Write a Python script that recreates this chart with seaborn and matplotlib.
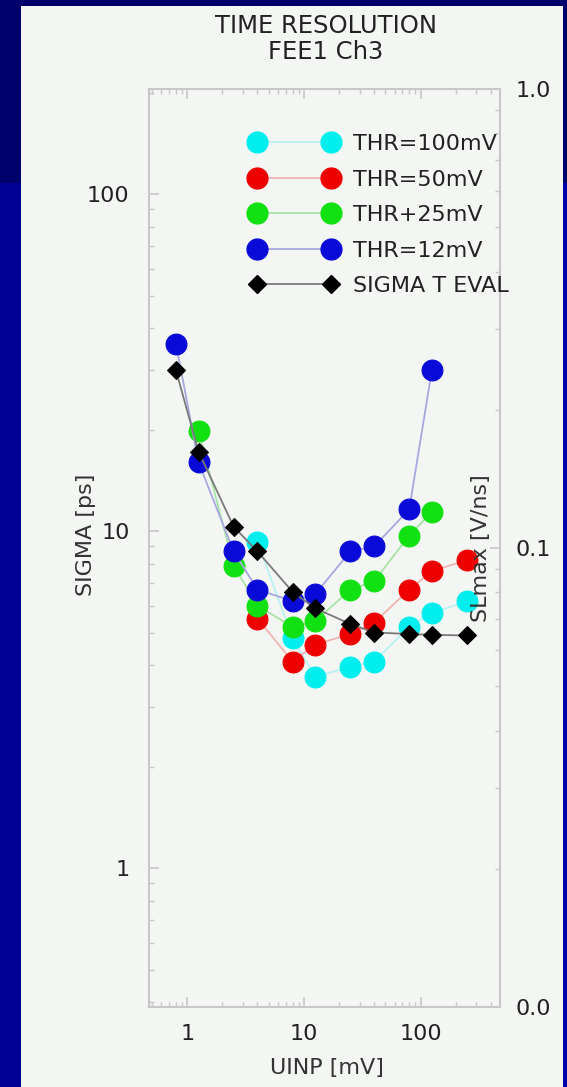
import numpy as np
import pandas as pd
import matplotlib
matplotlib.use("Agg")
import matplotlib.pyplot as plt
from matplotlib.patches import Rectangle
from matplotlib.lines import Line2D
from matplotlib.ticker import LogLocator, FixedLocator, FixedFormatter, NullFormatter
import seaborn as sns

# ---------------- data ----------------
x_cyan = [4, 8, 12.5, 25, 40, 80, 125, 250]
y_cyan = [9.3, 4.8, 3.7, 3.95, 4.1, 5.2, 5.7, 6.2]

x_red = [4, 8, 12.5, 25, 40, 80, 125, 250]
y_red = [5.5, 4.1, 4.6, 4.95, 5.35, 6.7, 7.6, 8.2]

x_green = [1.25, 2.5, 4, 8, 12.5, 25, 40, 80, 125]
y_green = [19.8, 7.9, 6.0, 5.2, 5.4, 6.7, 7.1, 9.7, 11.4]

x_blue = [0.8, 1.25, 2.5, 4, 8, 12.5, 25, 40, 80, 125]
y_blue = [36.0, 16.0, 8.7, 6.7, 6.2, 6.5, 8.7, 9.0, 11.6, 30.0]

x_black = [0.8, 1.25, 2.5, 4, 8, 12.5, 25, 40, 80, 125, 250]
y_black = [30.0, 17.2, 10.3, 8.7, 6.6, 5.9, 5.3, 5.0, 4.95, 4.92, 4.9]

labels = ["THR=100mV", "THR=50mV", "THR+25mV", "THR=12mV", "SIGMA T EVAL"]
x_ticks = [1, 10, 100]
x_ticklabels = ["1", "10", "100"]
y_ticks = [1, 10, 100]
y_ticklabels = ["1", "10", "100"]
y2_ticks = [0.01, 0.1, 1.0]
y2_ticklabels = ["0.0", "0.1", "1.0"]

# ---------------- style ----------------
sns.set_theme(style="white")
plt.rcParams["font.family"] = ["DejaVu Sans"]

W, H = 567, 1087
fig = plt.figure(figsize=(W / 100, H / 100), dpi=100, facecolor="#000094")

panel = "#f4f6f3"
fig.patches.append(Rectangle((0, 1 - 183 / H), 1, 183 / H, transform=fig.transFigure,
                             facecolor="#00006c", edgecolor="none", zorder=-3))
fig.patches.append(Rectangle((563 / W, 0), 4 / W, 1 - 183 / H, transform=fig.transFigure,
                             facecolor="#0000a8", edgecolor="none", zorder=-3))
fig.patches.append(Rectangle((21 / W, 0), (563 - 21) / W, 1 - 6 / H, transform=fig.transFigure,
                             facecolor=panel, edgecolor="none", zorder=-2))

left, right, top, bottom = 149, 500, 89, 1007
ax = fig.add_axes([left / W, (H - bottom) / H, (right - left) / W, (bottom - top) / H])
ax.set_facecolor(panel)

series = [
    (x_cyan, y_cyan, "#00eeee", "#b8f2f2"),
    (x_red, y_red, "#ee0000", "#f0b4b4"),
    (x_green, y_green, "#11e011", "#a8e4a8"),
    (x_blue, y_blue, "#0a0ad8", "#a8a8e0"),
]
for xs, ys, c, lc in series:
    df = pd.DataFrame({"x": xs, "y": ys})
    sns.lineplot(data=df, x="x", y="y", ax=ax, color=lc, lw=1.3, marker="o",
                 markersize=15, markerfacecolor=c, markeredgecolor=c, markeredgewidth=0.8,
                 legend=False, estimator=None, sort=False)

df_k = pd.DataFrame({"x": x_black, "y": y_black})
sns.lineplot(data=df_k, x="x", y="y", ax=ax, color="#7a7a7a", lw=1.3, marker="D",
             markersize=9, markerfacecolor="black", markeredgecolor="black",
             legend=False, estimator=None, sort=False)

ax.set_xscale("log")
ax.set_yscale("log")
ax.set_xlim(0.47, 480)
ax.set_ylim(0.387, 205)

grey = "#c8c8c8"
for s in ax.spines.values():
    s.set_color(grey)
    s.set_linewidth(1.5)

ax.xaxis.set_major_locator(FixedLocator(x_ticks))
ax.xaxis.set_major_formatter(FixedFormatter(x_ticklabels))
ax.xaxis.set_minor_locator(LogLocator(base=10, subs=np.arange(2, 10) * 1.0, numticks=20))
ax.xaxis.set_minor_formatter(NullFormatter())
ax.yaxis.set_major_locator(FixedLocator(y_ticks))
ax.yaxis.set_major_formatter(FixedFormatter(y_ticklabels))
ax.yaxis.set_minor_locator(LogLocator(base=10, subs=np.arange(2, 10) * 1.0, numticks=20))
ax.yaxis.set_minor_formatter(NullFormatter())

ax.tick_params(axis="x", which="both", direction="in", top=True, bottom=True, color=grey,
               labelsize=16, labelcolor="#222222", pad=12)
ax.tick_params(axis="y", which="both", direction="in", left=True, right=False, color=grey,
               labelsize=16, labelcolor="#222222", pad=14)
ax.tick_params(which="major", length=7, width=1.2)
ax.tick_params(which="minor", length=3.5, width=1.0)

ax.set_xlabel("UINP [mV]", fontsize=16, color="#333333")
ax.xaxis.set_label_coords((327 - left) / (right - left), (bottom - 1058) / (bottom - top))
ax.set_ylabel("SIGMA [ps]", fontsize=16, color="#333333")
ax.yaxis.set_label_coords((86 - left) / (right - left), (bottom - 535) / (bottom - top))
ax.yaxis.label.set_va("center")

ax2 = ax.twinx()
ax2.set_yscale("log")
ax2.set_ylim(0.01, 1.0)
ax2.yaxis.set_major_locator(FixedLocator(y2_ticks))
ax2.yaxis.set_major_formatter(FixedFormatter(y2_ticklabels))
ax2.yaxis.set_minor_locator(LogLocator(base=10, subs=np.arange(2, 10) * 1.0, numticks=20))
ax2.yaxis.set_minor_formatter(NullFormatter())
ax2.tick_params(axis="y", which="both", direction="in", color=grey, labelsize=16,
                labelcolor="#222222", pad=11)
ax2.tick_params(which="major", length=7, width=1.2)
ax2.tick_params(which="minor", length=3.5, width=1.0)
for s in ax2.spines.values():
    s.set_visible(False)
ax2.set_ylabel("SLmax [V/ns]", fontsize=16, color="#333333")
ax2.yaxis.set_label_coords((481 - left) / (right - left), (bottom - 548) / (bottom - top))
ax2.yaxis.label.set_va("center")

# legend
handles = []
for xs, ys, c, lc in series:
    handles.append(Line2D([0], [0], color=lc, lw=1.3, marker="o", markersize=15,
                          markerfacecolor=c, markeredgecolor=c))
handles.append(Line2D([0], [0], color="#7a7a7a", lw=1.3, marker="D", markersize=9,
                      markerfacecolor="black", markeredgecolor="black"))
leg = ax2.legend(handles, labels, loc="upper left", numpoints=2, frameon=False,
                 fontsize=16, handlelength=3.95, handletextpad=0.7, labelspacing=0.7,
                 borderaxespad=0, borderpad=0,
                 bbox_to_anchor=(250 / W, 1 - 134 / H), bbox_transform=fig.transFigure)
for t in leg.get_texts():
    t.set_color("#222222")

fig.text(326 / W, 1 - 39 / H, "TIME RESOLUTION\nFEE1 Ch3", ha="center", va="center",
         fontsize=17.5, color="#222222", linespacing=1.15)

fig.savefig("out.png", dpi=100, facecolor=fig.get_facecolor())
